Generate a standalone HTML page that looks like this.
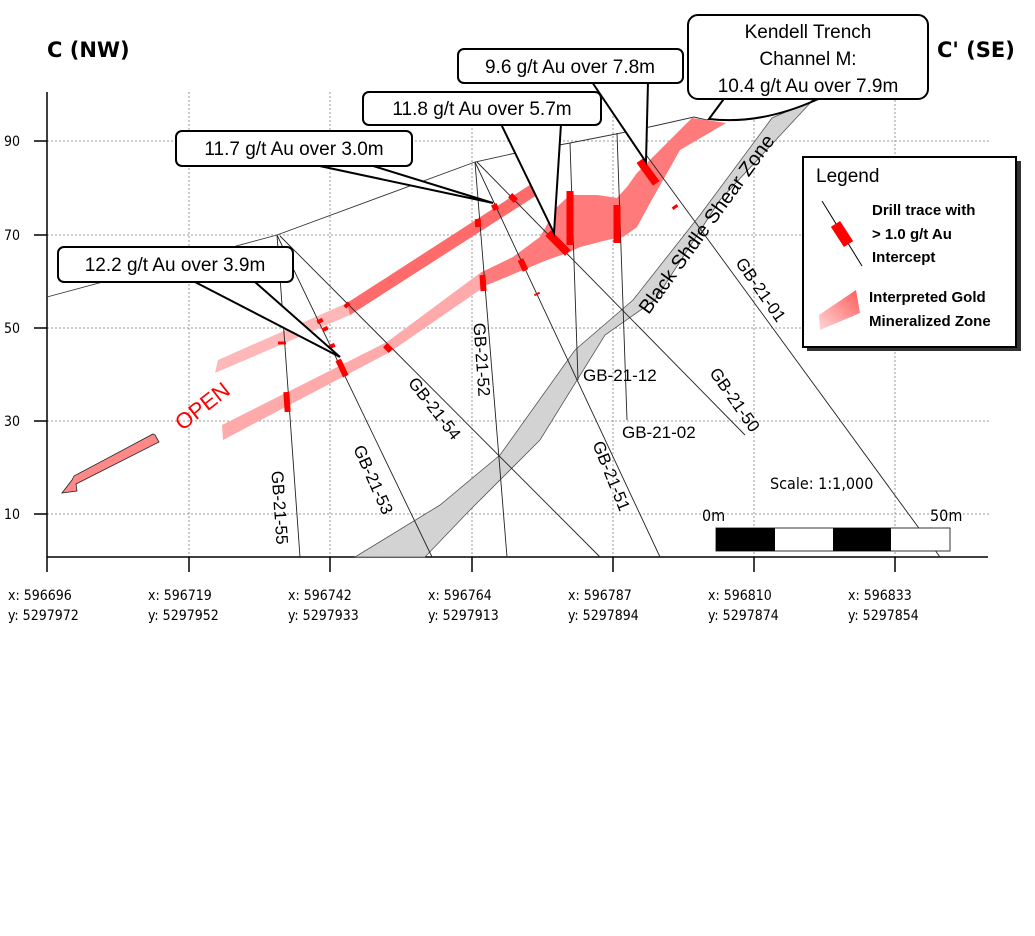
<!DOCTYPE html>
<html><head><meta charset="utf-8"><style>
html,body{margin:0;padding:0;background:#fff;width:1035px;height:936px;overflow:hidden}
svg{display:block}
.c{font-family:"Liberation Sans",sans-serif;font-size:19px;fill:#000}
.l{font-family:"Liberation Sans",sans-serif;font-size:17px;fill:#000}
.ax{font-family:"DejaVu Sans Condensed","Liberation Sans",sans-serif;font-size:14px;fill:#000}
.lg{font-family:"Liberation Sans",sans-serif;font-size:15px;fill:#000;font-weight:bold}
</style></head><body>
<svg width="1035" height="936" viewBox="0 0 1035 936" xmlns="http://www.w3.org/2000/svg">
<!-- grid -->
<g stroke="#999" stroke-width="1" stroke-dasharray="2,2">
<line x1="47" y1="141" x2="990" y2="141"/><line x1="47" y1="235" x2="990" y2="235"/><line x1="47" y1="328" x2="990" y2="328"/><line x1="47" y1="421" x2="990" y2="421"/><line x1="47" y1="514" x2="990" y2="514"/>
<line x1="189" y1="92" x2="189" y2="557"/><line x1="330" y1="92" x2="330" y2="557"/><line x1="472" y1="92" x2="472" y2="557"/><line x1="613" y1="92" x2="613" y2="557"/><line x1="754" y1="92" x2="754" y2="557"/><line x1="895" y1="92" x2="895" y2="557"/>
</g>
<!-- axes -->
<g stroke="#000" stroke-width="1.5">
<line x1="47" y1="92" x2="47" y2="572"/><line x1="47" y1="557" x2="988" y2="557"/>
<line x1="189" y1="557" x2="189" y2="572"/><line x1="330" y1="557" x2="330" y2="572"/><line x1="472" y1="557" x2="472" y2="572"/><line x1="613" y1="557" x2="613" y2="572"/><line x1="754" y1="557" x2="754" y2="572"/><line x1="895" y1="557" x2="895" y2="572"/>
<line x1="34" y1="141" x2="47" y2="141"/><line x1="34" y1="235" x2="47" y2="235"/><line x1="34" y1="328" x2="47" y2="328"/><line x1="34" y1="421" x2="47" y2="421"/><line x1="34" y1="514" x2="47" y2="514"/>
</g>
<g class="ax"><text x="4" y="146">90</text><text x="4" y="240">70</text><text x="4" y="333">50</text><text x="4" y="426">30</text><text x="4" y="519">10</text></g>
<g class="ax">
<text x="8" y="600">x: 596696</text><text x="8" y="620">y: 5297972</text>
<text x="148" y="600">x: 596719</text><text x="148" y="620">y: 5297952</text>
<text x="288" y="600">x: 596742</text><text x="288" y="620">y: 5297933</text>
<text x="428" y="600">x: 596764</text><text x="428" y="620">y: 5297913</text>
<text x="568" y="600">x: 596787</text><text x="568" y="620">y: 5297894</text>
<text x="708" y="600">x: 596810</text><text x="708" y="620">y: 5297874</text>
<text x="848" y="600">x: 596833</text><text x="848" y="620">y: 5297854</text>
</g>
<!-- titles -->
<text x="47" y="57" font-family="DejaVu Sans,Liberation Sans,sans-serif" font-weight="bold" font-size="21">C (NW)</text>
<text x="937" y="57" font-family="DejaVu Sans,Liberation Sans,sans-serif" font-weight="bold" font-size="21">C' (SE)</text>
<!-- shear zone -->
<polygon points="813,100 772,118 700,215 633,300 575,350 500,455 440,505 355,557 425,557 470,510 540,440 605,335 655,300 720,200" fill="#d3d3d3" stroke="#555" stroke-width="0.8"/>
<text transform="translate(712,228) rotate(-54)" text-anchor="middle" style="font-family:'Liberation Sans',sans-serif;font-size:20px">Black Shdle Shear Zone</text>
<!-- topo -->
<polyline points="47,297 277,235 475,162 516,153 570,143 621,133 654,126 694,117 707,120 813,100" fill="none" stroke="#333" stroke-width="0.9"/>
<!-- mineralized zones -->
<polygon points="215,373 218,360 347,303 533,183 537,195 350,315" fill="#ffb8b8"/>
<polygon points="347,303 533,183 537,195 350,315" fill="#ff6b6b"/>
<polygon points="223,440 222,425 387,342 480,273 513,257 540,237 557,207 570,195 597,195 617,198 627,187 637,173 653,157 692,118 726,123 680,150 650,203 637,227 623,237 607,240 580,247 567,253 547,260 487,285 390,352" fill="#ffaaaa"/>
<polygon points="480,273 513,257 540,237 557,207 570,195 597,195 617,198 627,187 637,173 653,157 692,118 726,123 680,150 650,203 637,227 623,237 607,240 580,247 567,253 547,260 487,285" fill="#ff7a7a"/>
<!-- drill traces -->
<g stroke="#222" stroke-width="0.9" fill="none">
<line x1="277" y1="235" x2="300" y2="557"/>
<line x1="277" y1="235" x2="432" y2="557"/>
<line x1="280" y1="236" x2="600" y2="557"/>
<line x1="475" y1="162" x2="507" y2="557"/>
<line x1="475" y1="162" x2="660" y2="557"/>
<line x1="477" y1="162" x2="745" y2="435"/>
<line x1="570" y1="143" x2="578" y2="380"/>
<line x1="617" y1="133" x2="627" y2="420"/>
<line x1="628" y1="130" x2="940" y2="557"/>
</g>
<!-- intercepts -->
<g fill="#f00">
<rect x="-3" y="-4" width="6" height="8" transform="translate(478,223) rotate(-4)"/>
<rect x="-3" y="-3" width="6" height="6" transform="translate(495,207) rotate(-25)"/>
<rect x="-3" y="-4" width="6" height="8" transform="translate(513,198) rotate(-45)"/>
<rect x="-3" y="-8" width="6" height="16" transform="translate(483,283) rotate(-4)"/>
<rect x="-3" y="-6" width="6" height="12" transform="translate(523,265) rotate(-25)"/>
<rect x="-3" y="-1" width="6" height="2" transform="translate(537,294) rotate(-25)"/>
<rect x="-4" y="-14" width="8" height="28" transform="translate(558,243) rotate(-45)"/>
<rect x="-3.5" y="-27" width="7" height="54" transform="translate(570,218)"/>
<rect x="-3.5" y="-19" width="7" height="38" transform="translate(617,224)"/>
<rect x="-4" y="-14" width="8" height="28" transform="translate(648,172) rotate(-36)"/>
<rect x="-3" y="-1.5" width="6" height="3" transform="translate(675,207) rotate(-36)"/>
<rect x="-4" y="-1.5" width="8" height="3" transform="translate(282,343)"/>
<rect x="-3" y="-10" width="6" height="20" transform="translate(287,402) rotate(-4)"/>
<rect x="-3" y="-2" width="6" height="4" transform="translate(320,321) rotate(-25)"/>
<rect x="-3" y="-2" width="6" height="4" transform="translate(325,329) rotate(-25)"/>
<rect x="-3" y="-2" width="6" height="4" transform="translate(332,346) rotate(-25)"/>
<rect x="-3" y="-9" width="6" height="18" transform="translate(342,368) rotate(-25)"/>
<rect x="-3" y="-2" width="6" height="4" transform="translate(347,305) rotate(-45)"/>
<rect x="-3" y="-4" width="6" height="8" transform="translate(388,348) rotate(-45)"/>
</g>
<!-- drill labels -->
<g class="l">
<text transform="translate(274,508) rotate(86)" text-anchor="middle">GB-21-55</text>
<text transform="translate(368,482) rotate(66)" text-anchor="middle">GB-21-53</text>
<text transform="translate(430,412) rotate(52)" text-anchor="middle">GB-21-54</text>
<text transform="translate(476,360) rotate(86)" text-anchor="middle">GB-21-52</text>
<text transform="translate(606,478) rotate(68)" text-anchor="middle">GB-21-51</text>
<text x="583" y="381">GB-21-12</text>
<text x="622" y="438">GB-21-02</text>
<text transform="translate(730,403) rotate(55)" text-anchor="middle">GB-21-50</text>
<text transform="translate(756,293) rotate(55)" text-anchor="middle">GB-21-01</text>
</g>
<!-- OPEN arrow -->
<text transform="translate(207,412) rotate(-38)" text-anchor="middle" font-family="Liberation Sans,sans-serif" font-size="22" fill="#f00">OPEN</text>
<polygon points="155,435 159,442 76,484 77,491 62,493 72,480 74,476 153,434" fill="#f88" stroke="#222" stroke-width="0.8"/>
<!-- scale -->
<text x="770" y="489" class="ax" style="font-size:16px">Scale: 1:1,000</text>
<text x="702" y="521" class="ax" style="font-size:16px">0m</text>
<text x="930" y="521" class="ax" style="font-size:16px">50m</text>
<rect x="716" y="528" width="234" height="23" fill="#fff" stroke="#333"/>
<rect x="716" y="528" width="59" height="23" fill="#000"/>
<rect x="833" y="528" width="58" height="23" fill="#000"/>
<!-- callouts -->
<g stroke="#000" stroke-width="2" fill="#fff">
<path d="M315,165 L493,203 L370,165 Z"/>
<rect x="176" y="131" width="236" height="35" rx="6"/>
<path d="M195,282 L340,357 L255,282 Z"/>
<rect x="58" y="247" width="235" height="35" rx="6"/>
<path d="M501,124 L554,233 L561,124 Z"/>
<rect x="363" y="92" width="238" height="33" rx="6"/>
<path d="M592,82 L646,162 L648,82 Z"/>
<rect x="458" y="49" width="225" height="34" rx="6"/>
<path d="M726,96 L709,119 Q760,125 816,100 L789,96 Z"/>
<rect x="688" y="15" width="240" height="84" rx="10"/>
</g>
<g fill="#fff"><rect x="318" y="160" width="50" height="5"/><rect x="198" y="276" width="55" height="5"/><rect x="503" y="119" width="56" height="5"/><rect x="594" y="77" width="52" height="5"/><rect x="728" y="92" width="59" height="6"/></g>
<g class="c" text-anchor="middle">
<text x="294" y="155">11.7 g/t Au over 3.0m</text>
<text x="175" y="271">12.2 g/t Au over 3.9m</text>
<text x="482" y="115">11.8 g/t Au over 5.7m</text>
<text x="570" y="73">9.6 g/t Au over 7.8m</text>
<text x="808" y="38">Kendell Trench</text>
<text x="808" y="65">Channel M:</text>
<text x="808" y="92">10.4 g/t Au over 7.9m</text>
</g>
<!-- legend -->
<rect x="807" y="161" width="214" height="190" fill="#333"/>
<rect x="803" y="157" width="213" height="190" fill="#fff" stroke="#000" stroke-width="2"/>
<text x="816" y="182" style="font-family:'Liberation Sans',sans-serif;font-size:19px">Legend</text>
<line x1="822" y1="201" x2="862" y2="266" stroke="#000" stroke-width="1"/>
<rect x="-5.5" y="-12" width="11" height="24" fill="#f00" transform="translate(842,234) rotate(-33)"/>
<g class="lg"><text x="872" y="215">Drill trace with</text><text x="872" y="239">&gt; 1.0 g/t Au</text><text x="872" y="262">Intercept</text>
<text x="869" y="302">Interpreted Gold</text><text x="869" y="326">Mineralized Zone</text></g>
<defs><linearGradient id="g" x1="0" y1="1" x2="1" y2="0"><stop offset="0" stop-color="#ffd6d6"/><stop offset="1" stop-color="#ff5a5a"/></linearGradient></defs>
<polygon points="819,315 856,290 860,313 820,330" fill="url(#g)"/>
</svg>
</body></html>
